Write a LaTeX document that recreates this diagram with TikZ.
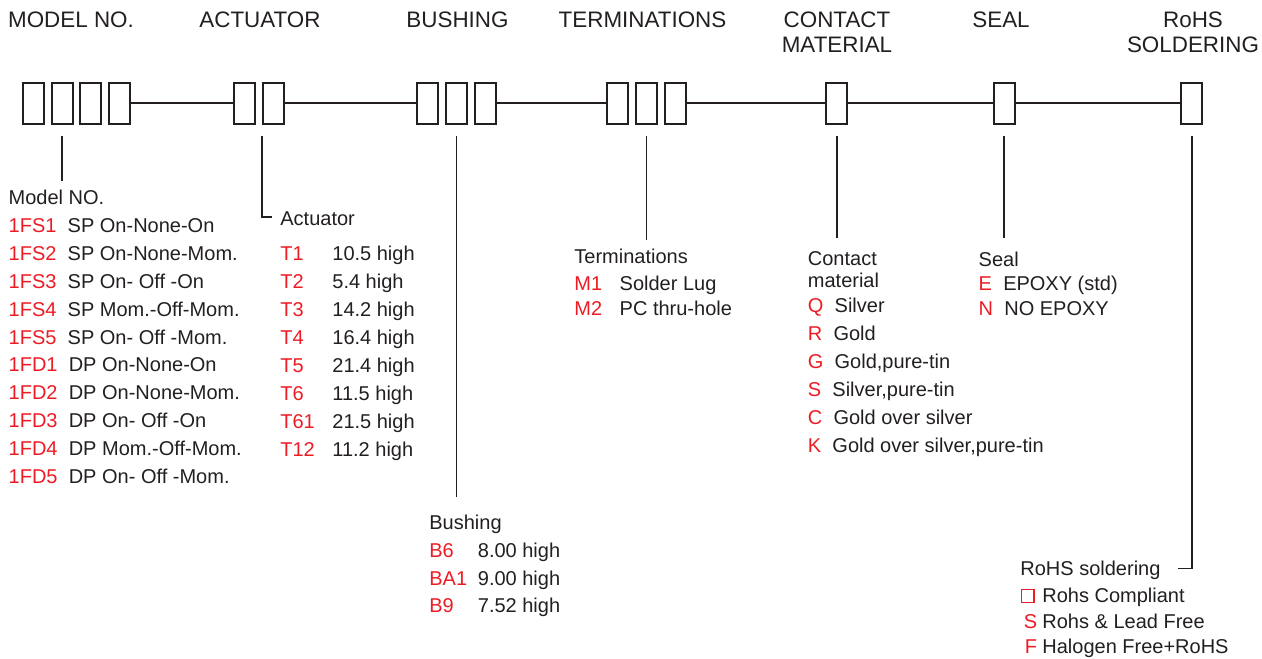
\documentclass[tikz,border=0pt]{standalone}
\usepackage{fontspec}
\setmainfont{Liberation Sans}
\usetikzlibrary{positioning}
\definecolor{ink}{HTML}{231F20}
\definecolor{codered}{HTML}{ED1C24}
\newcommand{\cod}[1]{\textcolor{codered}{#1}}

\begin{document}
\begin{tikzpicture}[
  x=0.5pt,y=-0.5pt,
  node distance=2.8pt,
  cell/.style={draw=ink,line width=1pt,minimum width=10.5pt,minimum height=20.6pt,inner sep=0pt},
  link/.style={ink,line width=0.9pt},
  lead/.style={ink,line width=0.8pt},
  head/.style={anchor=north,align=center,inner sep=0pt,text=ink,font=\fontsize{11.2}{12.5}\selectfont},
  txt/.style={anchor=base west,inner sep=0pt,text=ink,font=\fontsize{10}{11.2}\selectfont},
  val/.style={txt,anchor=base east}
]
  \useasboundingbox (0,0) rectangle (1262,658);

  % headings
  \node[head] (hmodel) at (71,11.4) {MODEL NO.};
  \node[head] (hact) at (260,11.4) {ACTUATOR};
  \node[head] (hbush) at (457.5,11.4) {BUSHING};
  \node[head] (hterm) at (642.5,11.4) {TERMINATIONS};
  \node[head] (hcont) at (837,11.4) {CONTACT\\MATERIAL};
  \node[head] (hseal) at (1001,11.4) {SEAL};
  \node[head] (hrohs) at (1193,11.4) {RoHS\\SOLDERING};

  % code boxes
  \node[cell] (m1) at (33.5,103.3) {};
  \node[cell,right=of m1] (m2) {};
  \node[cell,right=of m2] (m3) {};
  \node[cell,right=of m3] (m4) {};
  \node[cell] (a1) at (244.7,103.3) {};
  \node[cell,right=of a1] (a2) {};
  \node[cell] (b1) at (427.8,103.3) {};
  \node[cell,right=of b1] (b2) {};
  \node[cell,right=of b2] (b3) {};
  \node[cell] (t1) at (617.8,103.3) {};
  \node[cell,right=of t1] (t2) {};
  \node[cell,right=of t2] (t3) {};
  \node[cell] (c1) at (836.7,103.3) {};
  \node[cell] (s1) at (1004.2,103.3) {};
  \node[cell] (r1) at (1191.7,103.3) {};
  \draw[link] (m4)--(a1) (a2)--(b1) (b3)--(t1) (t3)--(c1)--(s1)--(r1);

  % leaders
  \coordinate (emodel) at (m2.south |- 0,181);
  \coordinate (eact) at (272,217);
  \coordinate (ebush) at (b2.south |- 0,497);
  \coordinate (eterm) at (t2.south |- 0,240);
  \coordinate (econt) at (c1.south |- 0,238);
  \coordinate (eseal) at (s1.south |- 0,238);
  \coordinate (erohs) at (1178,568.5);
  \draw[lead] ([yshift=-5.5pt]m2.south) -- (emodel);
  \draw[lead] ([yshift=-5.5pt]a2.south west) |- (eact);
  \draw[lead] ([yshift=-5.5pt]b2.south) -- (ebush);
  \draw[lead] ([yshift=-5.5pt]t2.south) -- (eterm);
  \draw[lead] ([yshift=-5.5pt]c1.south) -- (econt);
  \draw[lead] ([yshift=-5.5pt]s1.south) -- (eseal);
  \draw[lead] ([yshift=-5.5pt]r1.south) |- (erohs);

  % model no.
  \node[txt] (lmodel) at (8.3,204) {Model NO.};
  \foreach \c/\d [count=\i] in {1FS1/SP On-None-On, 1FS2/SP On-None-Mom.,
      1FS3/SP On- Off -On, 1FS4/SP Mom.-Off-Mom., 1FS5/SP On- Off -Mom.,
      1FD1/DP On-None-On, 1FD2/DP On-None-Mom., 1FD3/DP On- Off -On,
      1FD4/DP Mom.-Off-Mom., 1FD5/DP On- Off -Mom.}
    \node[txt] (mod\i) at (8.3,{232.2+27.95*(\i-1)}) {\cod{\c}\hspace{0.56em}\d};

  % actuator
  \node[txt] (lact) at (280,225) {Actuator};
  \foreach \c/\v [count=\i] in {T1/10.5, T2/5.4, T3/14.2, T4/16.4, T5/21.4,
      T6/11.5, T61/21.5, T12/11.2} {
    \node[txt] (act\i) at (280,{260.7+28*(\i-1)}) {\cod{\c}};
    \node[txt] (actv\i) at (332,{260.7+28*(\i-1)}) {\v{} high};
  }

  % bushing
  \node[txt] (lbush) at (429,529.3) {Bushing};
  \foreach \c/\v [count=\i] in {B6/8.00, BA1/9.00, B9/7.52} {
    \node[txt] (bush\i) at (429,{557.3+27.7*(\i-1)}) {\cod{\c}};
    \node[txt] (bushv\i) at (477.5,{557.3+27.7*(\i-1)}) {\v{} high};
  }

  % terminations
  \node[txt] (lterm) at (574,263.3) {Terminations};
  \foreach \c/\v [count=\i] in {M1/Solder Lug, M2/PC thru-hole} {
    \node[txt] (term\i) at (574,{290+25*(\i-1)}) {\cod{\c}};
    \node[txt] (termv\i) at (619.3,{290+25*(\i-1)}) {\v};
  }

  % contact material
  \node[txt,anchor=north west,align=left] (lcont) at (807.5,251.2) {Contact\\material};
  \foreach \c/\d [count=\i] in {Q/Silver, R/Gold, G/{Gold,pure-tin},
      S/{Silver,pure-tin}, C/Gold over silver, K/{Gold over silver,pure-tin}}
    \node[txt] (cont\i) at (807.5,{312.7+28*(\i-1)}) {\cod{\c}\hspace{0.56em}\d};

  % seal
  \node[txt] (lseal) at (978.3,266) {Seal};
  \node[txt] (seal1) at (978.3,290) {\cod{E}\hspace{0.56em}EPOXY (std)};
  \node[txt] (seal2) at (978.3,315) {\cod{N}\hspace{0.56em}NO EPOXY};

  % rohs soldering
  \node[txt] (lrohs) at (1020,575) {RoHS soldering};
  \node[draw=codered,line width=0.6pt,minimum width=6.4pt,minimum height=6.2pt,inner sep=0pt] (rbox) at (1027.6,596) {};
  \node[txt] (rohsv1) at (1042,602.7) {Rohs Compliant};
  \node[val] (rohs2) at (1037.5,628) {\cod{S}};
  \node[txt] (rohsv2) at (1042,628) {Rohs \& Lead Free};
  \node[val] (rohs3) at (1037.5,653.3) {\cod{F}};
  \node[txt] (rohsv3) at (1042,653.3) {Halogen Free+RoHS};
\end{tikzpicture}
\end{document}
